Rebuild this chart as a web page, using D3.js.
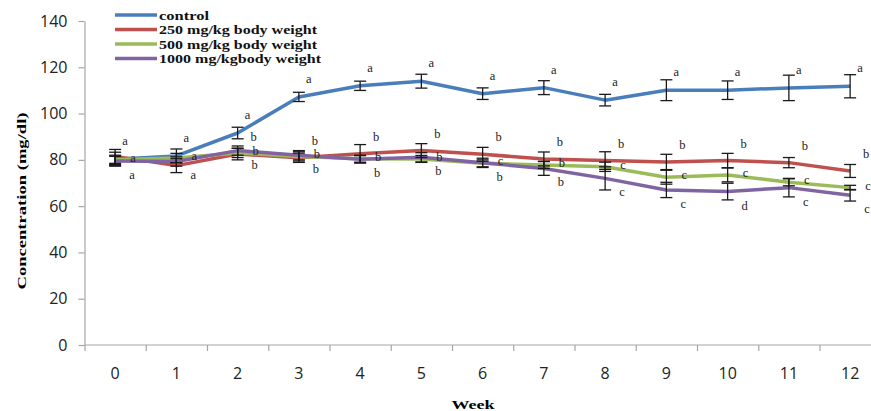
<!DOCTYPE html>
<html>
<head>
<meta charset="utf-8">
<script src="https://cdn.jsdelivr.net/npm/d3@7/dist/d3.min.js"></script>
<style>
  html, body { margin: 0; padding: 0; background: #fff; }
  svg { display: block; }
</style>
</head>
<body>
<svg id="chart" width="871" height="411"></svg>
<script>
// ---------------- DATA ----------------
const weeks = ["0","1","2","3","4","5","6","7","8","9","10","11","12"];
const yTicks = [0, 20, 40, 60, 80, 100, 120, 140];
const seriesNames = ["control", "250 mg/kg body weight", "500 mg/kg body weight", "1000 mg/kgbody weight"];

const controlValues = [80.3, 81.7, 91.6, 107.2, 112, 114, 108.6, 111.2, 105.8, 110.1, 110.1, 111.1, 111.8];
const dose250Values = [81.5, 77.5, 82.5, 80.9, 82.6, 84, 82.4, 80.4, 79.7, 79.1, 79.7, 78.8, 75.2];
const dose500Values = [80, 80.8, 83, 81.5, 80.5, 80.4, 78.5, 77.8, 77, 72.5, 73.5, 70.3, 68];
const dose1000Values = [79.5, 79.3, 84, 82, 80.3, 81.1, 78.7, 76.3, 72, 67, 66.3, 68, 64.7];

const controlErrors = [3, 3, 2.5, 2, 2, 3, 2.5, 3, 2.5, 4.5, 4, 5.5, 5];
const dose250Errors = [3, 3, 2.5, 2, 4, 3, 3, 3, 3.8, 3.3, 3.1, 2.2, 2.8];
const dose500Errors = [2, 2, 2, 2, 1.5, 1.5, 1.5, 1.5, 2, 3, 3, 1.5, 1];
const dose1000Errors = [2, 2, 2, 2, 1.5, 2, 2, 3, 5, 3.3, 3.6, 4, 2.5];

const controlLetters = ["a","a","a","a","a","a","a","a","a","a","a","a","a"];
const dose250Letters = ["","","b","b","b","b","b","b","b","b","b","b","b"];
const dose500Letters = ["a","a","b","b","b","b","c","b","c","c","c","c","c"];
const dose1000Letters = ["a","a","b","b","b","b","b","b","c","c","d","c","c"];

// ---------------- STYLE / LAYOUT ----------------
const colors = ["#4A7EBB", "#C0504D", "#9BBB59", "#8064A2"];
const letterOffsets = [[10, -18], [16, -17], [18, -2], [17, 14]];
const legendTextLengths = [50, 158, 158, 162];

const series = [
  { name: seriesNames[0], values: controlValues, errors: controlErrors, letters: controlLetters },
  { name: seriesNames[1], values: dose250Values, errors: dose250Errors, letters: dose250Letters },
  { name: seriesNames[2], values: dose500Values, errors: dose500Errors, letters: dose500Letters },
  { name: seriesNames[3], values: dose1000Values, errors: dose1000Errors, letters: dose1000Letters }
];

const svg = d3.select("#chart");
svg.append("rect").attr("width", 871).attr("height", 411).attr("fill", "#fff");

const plotLeft = 84.5, bandW = 61.25, plotTop = 21, plotBottom = 345;
const x = d3.scaleBand().domain(weeks).range([plotLeft, plotLeft + bandW * weeks.length]).padding(0);
const xEdges = d3.scaleLinear().domain([0, weeks.length]).range([plotLeft, plotLeft + bandW * weeks.length]);
const y = d3.scaleLinear().domain([0, 140]).range([plotBottom, plotTop]);
const cx = w => x(w) + x.bandwidth() / 2;

const axisColor = "#a6a6a6";
const tickFont = "'Open Sans', 'DejaVu Sans', sans-serif";

// Y axis
const yAxis = svg.append("g").attr("transform", `translate(${plotLeft},0)`)
  .call(d3.axisLeft(y).tickValues(yTicks).tickSize(6).tickPadding(11).tickSizeOuter(0));
yAxis.select(".domain").attr("stroke", axisColor).attr("stroke-width", 1.2);
yAxis.selectAll(".tick line").attr("stroke", axisColor).attr("stroke-width", 1.2);
yAxis.selectAll(".tick text").attr("fill", "#222").style("font-family", tickFont).style("font-size", "16px");

// X axis: edge ticks
const xAxisTicks = svg.append("g").attr("transform", `translate(0,${plotBottom})`)
  .call(d3.axisBottom(xEdges).tickValues(d3.range(0, weeks.length + 1))
        .tickSize(6).tickFormat("").tickSizeOuter(0));
xAxisTicks.select(".domain").remove();
xAxisTicks.selectAll(".tick line").attr("stroke", axisColor).attr("stroke-width", 1.2);
svg.append("line").attr("x1", plotLeft).attr("x2", 871).attr("y1", plotBottom).attr("y2", plotBottom)
  .attr("stroke", axisColor).attr("stroke-width", 1.2);

// X axis: labels at band centres
const xAxisLabels = svg.append("g").attr("transform", `translate(0,${plotBottom})`)
  .call(d3.axisBottom(x).tickSize(0).tickPadding(23));
xAxisLabels.select(".domain").remove();
xAxisLabels.selectAll(".tick text").attr("fill", "#222").style("font-family", tickFont).style("font-size", "16px");

// Axis titles
const serif = "'Liberation Serif', 'Times New Roman', serif";
svg.append("text")
  .attr("transform", `translate(21,201) rotate(-90)`)
  .attr("text-anchor", "middle").attr("dominant-baseline", "central")
  .attr("textLength", 177).attr("lengthAdjust", "spacingAndGlyphs")
  .style("font-family", serif).style("font-weight", "bold").style("font-size", "13px")
  .text("Concentration (mg/dl)");
svg.append("text")
  .attr("x", 473).attr("y", 404)
  .attr("text-anchor", "middle").attr("dominant-baseline", "central")
  .attr("textLength", 43).attr("lengthAdjust", "spacingAndGlyphs")
  .style("font-family", serif).style("font-weight", "bold").style("font-size", "13px")
  .text("Week");

// Lines
const line = d3.line().x((d, i) => cx(weeks[i])).y(d => y(d));
series.forEach((s, si) => {
  svg.append("path").datum(s.values)
    .attr("d", line).attr("fill", "none")
    .attr("stroke", colors[si]).attr("stroke-width", 3.5)
    .attr("stroke-linejoin", "round");
});

// Error bars
const capHalf = 6;
series.forEach((s, si) => {
  const g = svg.append("g").attr("stroke", "#1a1a1a").attr("stroke-width", 1.3);
  s.values.forEach((v, i) => {
    const px = cx(weeks[i]);
    const y1 = y(v + s.errors[i]), y2 = y(v - s.errors[i]);
    g.append("line").attr("x1", px).attr("x2", px).attr("y1", y1).attr("y2", y2);
    g.append("line").attr("x1", px - capHalf).attr("x2", px + capHalf).attr("y1", y1).attr("y2", y1);
    g.append("line").attr("x1", px - capHalf).attr("x2", px + capHalf).attr("y1", y2).attr("y2", y2);
  });
});

// Significance letters
series.forEach((s, si) => {
  const [dx, dy] = letterOffsets[si];
  svg.append("g").selectAll("text")
    .data(s.values.map((v, i) => ({ v, i, t: s.letters[i] })).filter(d => d.t))
    .join("text")
    .attr("x", d => cx(weeks[d.i]) + dx)
    .attr("y", d => y(d.v) + dy)
    .attr("text-anchor", "middle").attr("dominant-baseline", "central")
    .style("font-family", serif).style("font-size", "12.5px").attr("fill", "#222")
    .text(d => d.t);
});

// Legend
const legend = svg.append("g");
series.forEach((s, si) => {
  const ly = 15 + si * 14.5;
  legend.append("line").attr("x1", 115).attr("x2", 157).attr("y1", ly).attr("y2", ly)
    .attr("stroke", colors[si]).attr("stroke-width", 3.5);
  legend.append("text").attr("x", 159).attr("y", ly)
    .attr("dominant-baseline", "central")
    .attr("textLength", legendTextLengths[si]).attr("lengthAdjust", "spacingAndGlyphs")
    .style("font-family", serif).style("font-weight", "bold").style("font-size", "13px")
    .attr("fill", "#111")
    .text(s.name);
});
</script>
</body>
</html>
